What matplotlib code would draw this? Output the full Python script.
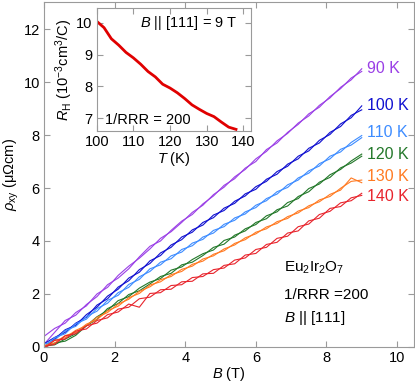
import matplotlib
matplotlib.use("Agg")
import matplotlib.pyplot as plt

plt.rcParams["font.family"] = ["Liberation Sans", "DejaVu Sans"]
plt.rcParams["mathtext.fontset"] = "custom"
plt.rcParams["mathtext.rm"] = "Liberation Sans"
plt.rcParams["mathtext.it"] = "Liberation Sans:italic"

# field grid (T), shared by all sweeps
field = [0.0, 0.3, 0.6, 0.9, 1.2, 1.5, 1.8, 2.1, 2.4, 2.7, 3.0, 3.3, 3.6, 3.9, 4.2, 4.5,
         4.8, 5.1, 5.4, 5.7, 6.0, 6.3, 6.6, 6.9, 7.2, 7.5, 7.8, 8.1, 8.4, 8.7, 9.0]

temps = ["90 K", "100 K", "110 K", "120 K", "130 K", "140 K"]
colors = ["#9a3fe6", "#1010d0", "#3d8cff", "#23782a", "#ff7a22", "#e8242c"]

# rho_xy (micro-ohm cm), two sweeps per temperature
rho_90_a = [0.1, 0.55, 1.0, 1.2, 1.6, 1.9, 2.35, 2.6, 2.95, 3.4, 3.8, 4.0, 4.4, 4.75, 5.0, 5.4,
            5.7, 6.1, 6.35, 6.75, 7.0, 7.45, 7.7, 8.1, 8.4, 8.8, 9.05, 9.45, 9.75, 10.15, 10.4]
rho_90_b = [0.4, 0.7, 0.9, 1.3, 1.55, 2.0, 2.25, 2.7, 3.05, 3.35, 3.7, 4.1, 4.35, 4.7, 5.08, 5.35,
            5.75, 6.03, 6.42, 6.7, 7.1, 7.38, 7.78, 8.06, 8.45, 8.72, 9.12, 9.4, 9.8, 10.08, 10.5]
rho_100_a = [0.0, 0.3, 0.65, 0.82, 1.22, 1.5, 1.92, 2.18, 2.6, 2.82, 3.25, 3.45, 3.85, 4.05, 4.42, 4.6,
             4.98, 5.15, 5.5, 5.7, 6.05, 6.25, 6.62, 6.82, 7.2, 7.4, 7.8, 8.02, 8.42, 8.65, 9.1]
rho_100_b = [0.12, 0.36, 0.55, 0.9, 1.12, 1.58, 1.82, 2.26, 2.5, 2.92, 3.15, 3.55, 3.76, 4.15, 4.33, 4.7,
             4.88, 5.24, 5.42, 5.78, 5.95, 6.33, 6.52, 6.9, 7.1, 7.5, 7.7, 8.1, 8.32, 8.74, 8.95]
rho_110_a = [0.0, 0.35, 0.5, 0.88, 1.05, 1.45, 1.65, 2.05, 2.25, 2.65, 2.85, 3.2, 3.33, 3.68, 3.82, 4.15,
             4.3, 4.63, 4.78, 5.1, 5.26, 5.6, 5.77, 6.12, 6.3, 6.65, 6.83, 7.2, 7.36, 7.72, 7.98]
rho_110_b = [0.1, 0.25, 0.62, 0.78, 1.15, 1.35, 1.76, 1.95, 2.36, 2.55, 2.95, 3.1, 3.44, 3.58, 3.92, 4.06,
             4.4, 4.54, 4.87, 5.02, 5.35, 5.52, 5.86, 6.02, 6.38, 6.56, 6.92, 7.1, 7.46, 7.62, 7.9]
rho_120_a = [0.04, 0.08, 0.3, 0.5, 0.8, 1.14, 1.38, 1.75, 1.9, 2.22, 2.45, 2.58, 2.9, 3.02, 3.3, 3.52,
             3.66, 4.02, 4.15, 4.46, 4.62, 4.95, 5.1, 5.45, 5.6, 5.98, 6.15, 6.5, 6.7, 7.02, 7.28]
rho_120_b = [-0.02, 0.15, 0.22, 0.44, 0.8, 1.04, 1.45, 1.64, 1.98, 2.12, 2.38, 2.66, 2.78, 3.1, 3.2, 3.45,
             3.76, 3.88, 4.22, 4.38, 4.7, 4.84, 5.18, 5.32, 5.68, 5.86, 6.22, 6.4, 6.76, 6.94, 7.2]
rho_130_a = [0.0, 0.25, 0.35, 0.63, 0.8, 1.12, 1.3, 1.62, 1.8, 2.1, 2.27, 2.54, 2.66, 2.93, 3.05, 3.32,
             3.44, 3.7, 3.85, 4.12, 4.27, 4.53, 4.66, 4.92, 5.06, 5.33, 5.48, 5.76, 5.92, 6.38, 6.2]
rho_130_b = [0.05, 0.15, 0.43, 0.55, 0.86, 1.03, 1.37, 1.54, 1.86, 2.02, 2.34, 2.46, 2.73, 2.85, 3.12, 3.24,
             3.5, 3.63, 3.91, 4.05, 4.33, 4.46, 4.73, 4.85, 5.13, 5.26, 5.55, 5.68, 5.99, 6.25, 6.3]
rho_140_a = [0.02, 0.1, 0.42, 0.5, 0.8, 0.9, 1.22, 1.32, 1.62, 1.5, 2.02, 2.05, 2.32, 2.35, 2.62, 2.66,
             2.92, 2.98, 3.28, 3.36, 3.68, 3.76, 4.1, 4.18, 4.54, 4.64, 5.0, 5.12, 5.44, 5.52, 5.8]
rho_140_b = [-0.05, 0.25, 0.3, 0.6, 0.68, 1.0, 1.1, 1.43, 1.5, 1.82, 1.88, 2.16, 2.18, 2.46, 2.48, 2.76,
             2.78, 3.08, 3.14, 3.47, 3.53, 3.87, 3.95, 4.3, 4.38, 4.76, 4.86, 5.23, 5.3, 5.63, 5.72]

sweeps = [(rho_90_a, rho_90_b), (rho_100_a, rho_100_b), (rho_110_a, rho_110_b),
          (rho_120_a, rho_120_b), (rho_130_a, rho_130_b), (rho_140_a, rho_140_b)]
label_y = [10.5, 9.13, 8.09, 7.25, 6.43, 5.67]

# inset: Hall coefficient vs temperature at 9 T
temp_inset = [100, 102, 104, 106, 108, 110, 112, 114, 116, 118,
              120, 122, 124, 126, 128, 130, 132, 134, 136, 138]
r_hall = [10.05, 9.85, 9.5, 9.3, 9.07, 8.9, 8.7, 8.47, 8.3, 8.07,
          7.95, 7.8, 7.62, 7.42, 7.28, 7.15, 7.05, 6.88, 6.72, 6.65]

spine_col = "#9a9a9a"

fig = plt.figure(figsize=(4.15, 3.84), dpi=100)
ax = fig.add_axes([0.106, 0.0964, 0.8916, 0.8984])

for (a, b), col, name, ly in zip(sweeps, colors, temps, label_y):
    ax.plot(field, a, color=col, lw=0.8)
    ax.plot(field, b, color=col, lw=0.8)
    ax.text(9.15, ly, name, color=col, fontsize=11.5, va="center", ha="left")

ax.set_xlim(0, 10.48)
ax.set_ylim(0, 13.02)
ax.set_xticks([0, 2, 4, 6, 8, 10])
ax.set_yticks([0, 2, 4, 6, 8, 10, 12])
ax.tick_params(direction="in", top=True, right=True, length=4, color=spine_col,
               labelsize=10.5, pad=3)
for s in ax.spines.values():
    s.set_color(spine_col)
ax.set_xlabel("$B$ (T)", fontsize=10.5, labelpad=0)
ax.set_ylabel("$\\rho_{\\rm xy}$ (μΩcm)", fontsize=10.5, labelpad=2)

ax.text(6.8, 2.98, "Eu$_2$Ir$_2$O$_7$", fontsize=11, va="center")
ax.text(6.8, 1.96, "1/RRR =200", fontsize=11, va="center")
ax.text(6.8, 1.09, "$B$ || [111]", fontsize=11, va="center")

ins = fig.add_axes([0.233, 0.659, 0.371, 0.3195])
ins.plot(temp_inset, r_hall, color="#e00000", lw=2)
ins.set_xlim(100, 142)
ins.set_ylim(6.6, 10.46)
ins.set_xticks([100, 110, 120, 130, 140])
ins.set_yticks([7, 8, 9, 10])
ins.tick_params(direction="in", top=True, right=True, length=4, color=spine_col,
                labelsize=10.5, pad=3)
for s in ins.spines.values():
    s.set_color(spine_col)
ins.set_xlabel("$T$ (K)", fontsize=10.5, labelpad=1)
ins.set_ylabel("$R_{\\rm H}$ (10$^{-3}$cm$^3$/C)", fontsize=10.5, labelpad=1)
ins.text(111.8, 10.0, "$B$ || [111] = 9 T", fontsize=10.5, va="center")
ins.text(102.3, 6.95, "1/RRR = 200", fontsize=10.5, va="center")

fig.savefig("out.png", dpi=100)
